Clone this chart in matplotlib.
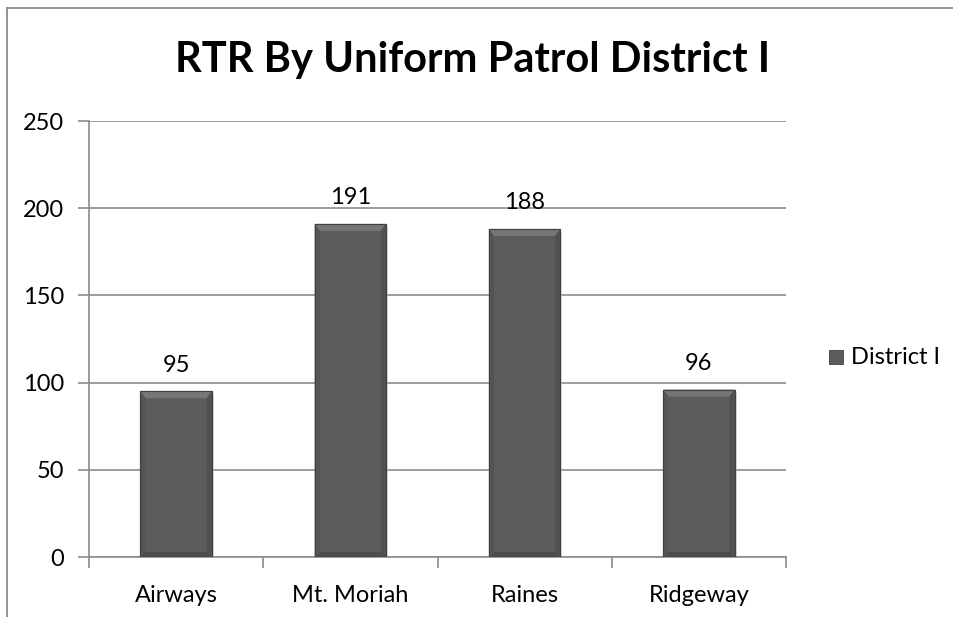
import matplotlib
matplotlib.use("Agg")
import matplotlib.pyplot as plt
from matplotlib.patches import Polygon, Rectangle
from matplotlib.lines import Line2D

categories = ["Airways", "Mt. Moriah", "Raines", "Ridgeway"]
values = [95, 191, 188, 96]
series_name = "District I"
title = "RTR By Uniform Patrol District I"
yticks = [0, 50, 100, 150, 200, 250]

plt.rcParams["font.family"] = ["Lato", "DejaVu Sans"]
FS = 17

fig = plt.figure(figsize=(9.54, 6.17), dpi=100)
W, H = 954, 617
ax = fig.add_axes([89 / W, 1 - 557 / H, (786 - 89) / W, (557 - 121) / H])

# outer chart frame (top and left edges)
fig.add_artist(Line2D([7 / W, 7 / W], [0, 1 - 8 / H], color="#8c8c8c", lw=1.3))
fig.add_artist(Line2D([7 / W, 1], [1 - 8 / H, 1 - 8 / H], color="#8c8c8c", lw=1.3))

x = list(range(len(categories)))
bw = 0.41
bars = ax.bar(x, values, width=bw, color="#5c5c5c", edgecolor="#404040", linewidth=0.8, zorder=3)

# bevel shading on each bar
bx = 0.03   # horizontal bevel (category units)
by = 4.0    # vertical bevel (data units)
for b in bars:
    x0, w, h = b.get_x(), b.get_width(), b.get_height()
    x1 = x0 + w
    # soft drop shadow
    ax.add_patch(Rectangle((x0 + 0.012, -1.8), w, h, facecolor="#bdbdbd", alpha=0.45,
                           edgecolor="none", zorder=2))
    ax.add_patch(Polygon([(x0, h), (x1, h), (x1 - bx, h - by), (x0 + bx, h - by)],
                         closed=True, facecolor="#767676", edgecolor="none", zorder=4))
    ax.add_patch(Polygon([(x0, 0), (x1, 0), (x1 - bx, by * 0.7), (x0 + bx, by * 0.7)],
                         closed=True, facecolor="#4c4c4c", edgecolor="none", zorder=4))
    ax.add_patch(Polygon([(x0, 0), (x0, h), (x0 + bx, h - by), (x0 + bx, by * 0.7)],
                         closed=True, facecolor="#555555", edgecolor="none", zorder=4))
    ax.add_patch(Polygon([(x1, 0), (x1, h), (x1 - bx, h - by), (x1 - bx, by * 0.7)],
                         closed=True, facecolor="#515151", edgecolor="none", zorder=4))
    ax.add_patch(Rectangle((x0, 0), w, h, facecolor="none", edgecolor="#404040",
                           linewidth=0.8, zorder=5))
    ax.text(b.get_x() + w / 2, h + 9, f"{h:.0f}", ha="center", va="bottom",
            fontsize=FS, color="black", zorder=6)

ax.set_xlim(-0.5, len(categories) - 0.5)
ax.set_ylim(0, 250)
ax.set_yticks(yticks)
ax.set_yticklabels([str(v) for v in yticks], fontsize=FS)
ax.set_xticks(x)
ax.set_xticklabels(categories, fontsize=FS)
ax.tick_params(axis="x", length=0, pad=20)
ax.tick_params(axis="y", length=8, width=1.2, color="#8c8c8c", pad=10)

# category boundary tick marks
ax.set_xticks([i - 0.5 for i in range(len(categories) + 1)], minor=True)
ax.tick_params(axis="x", which="minor", length=8, width=1.2, color="#8c8c8c")

ax.grid(axis="y", color="#8c8c8c", lw=1.2, zorder=0)
for s in ["top", "right"]:
    ax.spines[s].set_visible(False)
for s in ["left", "bottom"]:
    ax.spines[s].set_color("#8c8c8c")
    ax.spines[s].set_linewidth(1.2)

fig.text((178 + 767) / 2 / W, 1 - 60 / H, title, ha="center", va="center",
         fontsize=30, fontweight="bold", color="black")

# legend
fig.add_artist(Rectangle((829 / W, 1 - 364 / H), 14 / W, 14 / H, facecolor="#5c5c5c",
                         edgecolor="#404040", lw=0.6))
fig.text(851 / W, 1 - 357 / H, series_name, ha="left", va="center", fontsize=FS)

fig.savefig("out.png", dpi=100)
